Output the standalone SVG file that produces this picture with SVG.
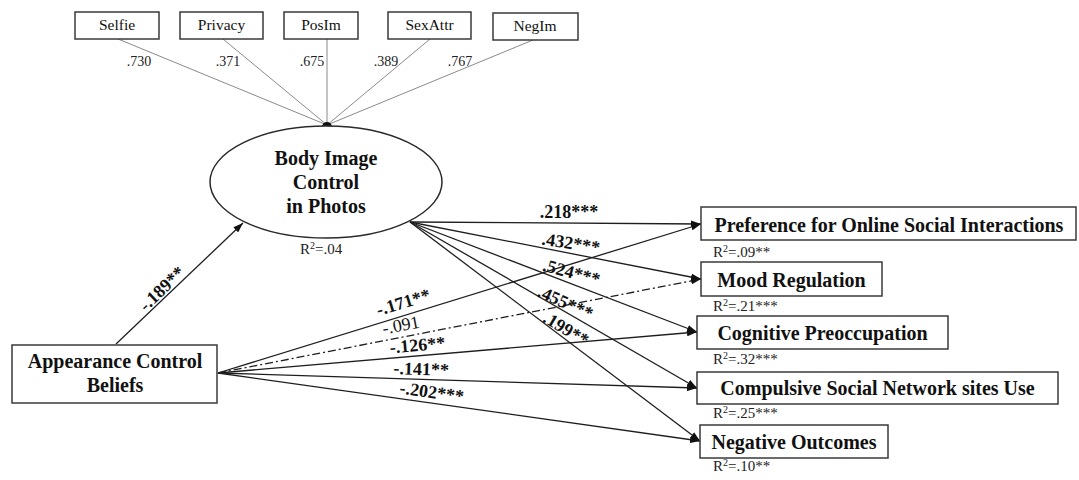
<svg xmlns="http://www.w3.org/2000/svg" width="1079" height="480" viewBox="0 0 1079 480">
<style>
  .box { fill: #fff; stroke: #3a3a3a; stroke-width: 1.5; }
  .ell { fill: #fff; stroke: #2a2a2a; stroke-width: 1.5; }
  .ind { font-family: "Liberation Serif", "Times New Roman", serif; font-size: 15.5px; fill: #111; text-anchor: middle; }
  .load { font-family: "Liberation Serif", "Times New Roman", serif; font-size: 14px; fill: #222; text-anchor: middle; }
  .big { font-family: "Liberation Serif", "Times New Roman", serif; font-size: 20px; font-weight: bold; fill: #111; text-anchor: middle; }
  .coef { font-family: "Liberation Serif", "Times New Roman", serif; font-size: 18px; font-weight: bold; fill: #111; text-anchor: middle; }
  .coefn { font-family: "Liberation Serif", "Times New Roman", serif; font-size: 18px; fill: #111; text-anchor: middle; }
  .r2 { font-family: "Liberation Serif", "Times New Roman", serif; font-size: 15px; fill: #222; }
  .sup { font-size: 10px; }
  .ll { stroke: #8a8a8a; stroke-width: 1; fill: none; }
  .path { stroke: #1e1e1e; stroke-width: 1.3; fill: none; marker-end: url(#arr); }
  .dd { stroke-dasharray: 8 3 2 3; }
</style>
<defs>
  <marker id="arr" markerUnits="userSpaceOnUse" markerWidth="10" markerHeight="7" refX="10" refY="3.5" orient="auto">
    <path d="M0,0 L10,3.5 L0,7 z" fill="#111"/>
  </marker>
</defs>

<g id="connectors">
  <g id="loadings">
    <line class="ll" x1="118" y1="39" x2="327" y2="125"/>
    <line class="ll" x1="223" y1="39" x2="327" y2="125"/>
    <line class="ll" x1="327" y1="39" x2="327" y2="125"/>
    <line class="ll" x1="430" y1="39" x2="327" y2="125"/>
    <line class="ll" x1="533" y1="40" x2="327" y2="125"/>
  </g>
  <line class="path" x1="116" y1="344" x2="243" y2="223"/>
  <line class="path" x1="410" y1="222" x2="701" y2="224"/>
  <line class="path" x1="410" y1="222" x2="701" y2="279"/>
  <line class="path" x1="410" y1="222" x2="697" y2="332"/>
  <line class="path" x1="410" y1="222" x2="697" y2="388"/>
  <line class="path" x1="410" y1="222" x2="700" y2="441"/>
  <line class="path" x1="218" y1="373" x2="701" y2="224"/>
  <line class="path dd" x1="218" y1="373" x2="701" y2="279"/>
  <line class="path" x1="218" y1="373" x2="697" y2="332"/>
  <line class="path" x1="218" y1="373" x2="697" y2="388"/>
  <line class="path" x1="218" y1="373" x2="700" y2="441"/>
</g>

<g id="loading-labels">
  <text class="load" x="139" y="66">.730</text>
  <text class="load" x="228" y="66">.371</text>
  <text class="load" x="312" y="66">.675</text>
  <text class="load" x="386" y="66">.389</text>
  <text class="load" x="460" y="66">.767</text>
</g>

<g id="selfie"><rect class="box" x="75" y="12" width="84" height="27"/><text class="ind" x="117" y="30">Selfie</text></g>
<g id="privacy"><rect class="box" x="180" y="12" width="83" height="27"/><text class="ind" x="221.5" y="30">Privacy</text></g>
<g id="posim"><rect class="box" x="284" y="12" width="74" height="27"/><text class="ind" x="321" y="30">PosIm</text></g>
<g id="sexattr"><rect class="box" x="388" y="12" width="83" height="27"/><text class="ind" x="429.5" y="30">SexAttr</text></g>
<g id="negim"><rect class="box" x="493" y="13" width="85" height="27"/><text class="ind" x="535" y="31">NegIm</text></g>

<g id="body-image">
  <circle cx="327" cy="127" r="5" fill="#111"/>
  <ellipse class="ell" cx="326" cy="182" rx="116" ry="56"/>
  <text class="big" x="326" y="165">Body Image</text>
  <text class="big" x="326" y="189">Control</text>
  <text class="big" x="326" y="213">in Photos</text>
  <text class="r2" x="300" y="254">R<tspan class="sup" dy="-5">2</tspan><tspan dy="5">=.04</tspan></text>
</g>

<g id="acb">
  <rect class="box" x="12" y="345" width="205" height="58"/>
  <text class="big" x="115" y="368">Appearance Control</text>
  <text class="big" x="115" y="392">Beliefs</text>
</g>

<g id="pref">
  <rect class="box" x="701" y="207" width="375" height="33"/>
  <text class="big" x="889" y="232">Preference for Online Social Interactions</text>
  <text class="r2" x="713" y="257">R<tspan class="sup" dy="-5">2</tspan><tspan dy="5">=.09**</tspan></text>
</g>
<g id="mood">
  <rect class="box" x="701" y="262" width="181" height="34"/>
  <text class="big" x="791.5" y="287">Mood Regulation</text>
  <text class="r2" x="713" y="311">R<tspan class="sup" dy="-5">2</tspan><tspan dy="5">=.21***</tspan></text>
</g>
<g id="cog">
  <rect class="box" x="697" y="316" width="251" height="33"/>
  <text class="big" x="822.5" y="340">Cognitive Preoccupation</text>
  <text class="r2" x="713" y="364">R<tspan class="sup" dy="-5">2</tspan><tspan dy="5">=.32***</tspan></text>
</g>
<g id="comp">
  <rect class="box" x="697" y="372" width="361" height="32"/>
  <text class="big" x="877.5" y="395">Compulsive Social Network sites Use</text>
  <text class="r2" x="713" y="418">R<tspan class="sup" dy="-5">2</tspan><tspan dy="5">=.25***</tspan></text>
</g>
<g id="neg">
  <rect class="box" x="700" y="425" width="188" height="33"/>
  <text class="big" x="794" y="449">Negative Outcomes</text>
  <text class="r2" x="713" y="471">R<tspan class="sup" dy="-5">2</tspan><tspan dy="5">=.10**</tspan></text>
</g>

<g id="coef-labels">
  <text class="coef" x="166" y="293" transform="rotate(-43.6 166 293)">-.189**</text>
  <text class="coef" x="569" y="218">.218***</text>
  <text class="coef" x="570" y="249" transform="rotate(9 570 249)">.432***</text>
  <text class="coef" x="570" y="278" transform="rotate(15 570 278)">.524***</text>
  <text class="coef" x="563" y="308" transform="rotate(24 563 308)">.455***</text>
  <text class="coef" x="563" y="334" transform="rotate(31 563 334)">.199**</text>
  <text class="coef" x="405" y="308" transform="rotate(-17 405 308)">-.171**</text>
  <text class="coefn" x="402" y="331" transform="rotate(-11 402 331)">-.091</text>
  <text class="coef" x="418" y="351" transform="rotate(-5 418 351)">-.126**</text>
  <text class="coef" x="421" y="375" transform="rotate(2 421 375)">-.141**</text>
  <text class="coef" x="431" y="398" transform="rotate(8 431 398)">-.202***</text>
</g>
</svg>
